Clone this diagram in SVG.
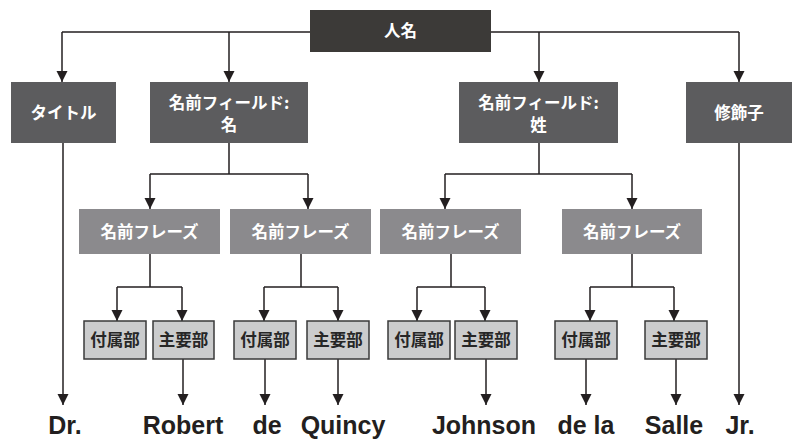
<svg xmlns="http://www.w3.org/2000/svg" width="795" height="441" viewBox="0 0 795 441">
<defs>
<marker id="ah" markerUnits="userSpaceOnUse" markerWidth="12" markerHeight="12" refX="11" refY="5.5" orient="auto">
<path d="M0,0 L11,5.5 L0,11 z" fill="#231f20"/>
</marker>
<style>
.c{fill:none;stroke:#231f20;stroke-width:1.5}
.a{marker-end:url(#ah)}
.top{fill:#3c3a38}
.l1{fill:#5c5c5e}
.l2{fill:#8b8a8d}
.sm{fill:#cbcccd;stroke:#3a3a3a;stroke-width:1.5}
.wt{font-family:"Noto Sans CJK JP","Noto Sans",sans-serif;font-weight:700;font-size:16.5px;fill:#ffffff;text-anchor:middle}
.dt{font-family:"Noto Sans CJK JP","Noto Sans",sans-serif;font-weight:700;font-size:16.5px;fill:#262626;text-anchor:middle}
.en{font-family:"Liberation Sans",Arial,sans-serif;font-weight:700;font-size:25px;fill:#231f20;text-anchor:middle}
</style>
</defs>
<rect width="795" height="441" fill="#ffffff"/>
<g id="connectors">
<path class="c" d="M62,32 H310 M491,32 H739"/>
<path class="c a" d="M62,32 V82"/>
<path class="c a" d="M229,32 V82"/>
<path class="c a" d="M539,32 V82"/>
<path class="c a" d="M739,32 V82"/>
<path class="c" d="M229,143 V174 M150,174 H308"/>
<path class="c a" d="M150,174 V209"/>
<path class="c a" d="M308,174 V209"/>
<path class="c" d="M539,143 V174 M445,174 H632"/>
<path class="c a" d="M445,174 V209"/>
<path class="c a" d="M632,174 V209"/>
<path class="c" d="M150,254 V287 M117,287 H182"/>
<path class="c a" d="M117,287 V321"/>
<path class="c a" d="M182,287 V321"/>
<path class="c" d="M301,254 V287 M264,287 H338"/>
<path class="c a" d="M264,287 V321"/>
<path class="c a" d="M338,287 V321"/>
<path class="c" d="M451,254 V287 M417,287 H485"/>
<path class="c a" d="M417,287 V321"/>
<path class="c a" d="M485,287 V321"/>
<path class="c" d="M632,254 V287 M590,287 H674"/>
<path class="c a" d="M590,287 V321"/>
<path class="c a" d="M674,287 V321"/>
<path class="c a" d="M63,143 V405"/>
<path class="c a" d="M183,359 V405"/>
<path class="c a" d="M265,359 V405"/>
<path class="c a" d="M338,359 V405"/>
<path class="c a" d="M486,359 V405"/>
<path class="c a" d="M586,359 V405"/>
<path class="c a" d="M676,359 V405"/>
<path class="c a" d="M739,143 V405"/>
</g>
<g id="n-jinmei"><rect class="top" x="310" y="10" width="181" height="42"/><text class="wt" x="400.5" y="37">人名</text></g>
<g id="n-title"><rect class="l1" x="11" y="82" width="105" height="61"/><text class="wt" x="63.5" y="118.5">タイトル</text></g>
<g id="n-field-given"><rect class="l1" x="150" y="82" width="158" height="61"/><text class="wt" x="229" y="109">名前フィールド:</text><text class="wt" x="229" y="131">名</text></g>
<g id="n-field-family"><rect class="l1" x="459" y="82" width="159" height="61"/><text class="wt" x="538.5" y="109">名前フィールド:</text><text class="wt" x="538.5" y="131">姓</text></g>
<g id="n-suffix"><rect class="l1" x="686" y="82" width="106" height="61"/><text class="wt" x="739" y="118.5">修飾子</text></g>
<g id="n-phrase1"><rect class="l2" x="79" y="209" width="141" height="45"/><text class="wt" x="149.5" y="237.5">名前フレーズ</text></g>
<g id="n-phrase2"><rect class="l2" x="230" y="209" width="141" height="45"/><text class="wt" x="300.5" y="237.5">名前フレーズ</text></g>
<g id="n-phrase3"><rect class="l2" x="380" y="209" width="141" height="45"/><text class="wt" x="450.5" y="237.5">名前フレーズ</text></g>
<g id="n-phrase4"><rect class="l2" x="562" y="209" width="140" height="45"/><text class="wt" x="632" y="237.5">名前フレーズ</text></g>
<g id="n-sub1"><rect class="sm" x="84" y="321" width="62" height="38"/><text class="dt" x="115" y="346">付属部</text></g>
<g id="n-main1"><rect class="sm" x="153" y="321" width="61" height="38"/><text class="dt" x="183.5" y="346">主要部</text></g>
<g id="n-sub2"><rect class="sm" x="234" y="321" width="62" height="38"/><text class="dt" x="265" y="346">付属部</text></g>
<g id="n-main2"><rect class="sm" x="307" y="321" width="62" height="38"/><text class="dt" x="338" y="346">主要部</text></g>
<g id="n-sub3"><rect class="sm" x="388" y="321" width="62" height="38"/><text class="dt" x="419" y="346">付属部</text></g>
<g id="n-main3"><rect class="sm" x="455" y="321" width="62" height="38"/><text class="dt" x="486" y="346">主要部</text></g>
<g id="n-sub4"><rect class="sm" x="555" y="321" width="62" height="38"/><text class="dt" x="586" y="346">付属部</text></g>
<g id="n-main4"><rect class="sm" x="645" y="321" width="62" height="38"/><text class="dt" x="676" y="346">主要部</text></g>
<g id="words">
<text class="en" x="65" y="434">Dr.</text>
<text class="en" x="183" y="434">Robert</text>
<text class="en" x="267" y="434">de</text>
<text class="en" x="343" y="434">Quincy</text>
<text class="en" x="484" y="434">Johnson</text>
<text class="en" x="586" y="434">de la</text>
<text class="en" x="674" y="434">Salle</text>
<text class="en" x="740" y="434">Jr.</text>
</g>
</svg>
